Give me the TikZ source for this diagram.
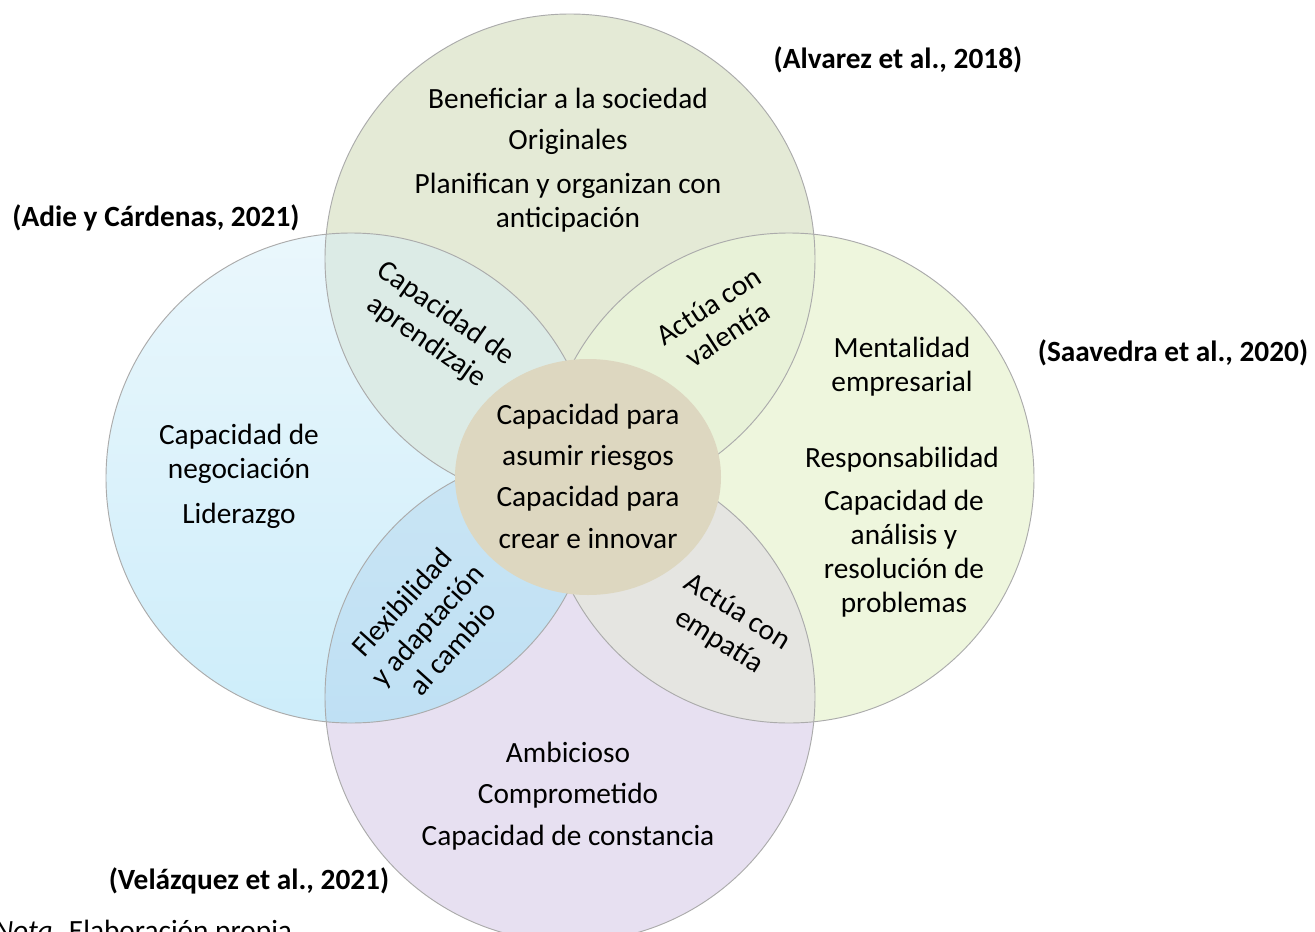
\documentclass[tikz,border=0pt]{standalone}
\usepackage{fontspec}
\setmainfont{Carlito}

\definecolor{topgreen}{HTML}{E4EAD6}
\definecolor{rightgreen}{HTML}{EEF6DD}
\definecolor{botlilac}{HTML}{E7E0F1}
\definecolor{leftblueA}{HTML}{EAF7FC}
\definecolor{leftblueB}{HTML}{CDEDFA}
\definecolor{lensTL}{HTML}{DCEBE6}
\definecolor{lensTR}{HTML}{E8F2D8}
\definecolor{lensBLa}{HTML}{D2E9F3}
\definecolor{lensBLb}{HTML}{BFE0F4}
\definecolor{lensBR}{HTML}{E5E5E1}
\definecolor{coretan}{HTML}{DDD7C0}
\definecolor{ringgray}{HTML}{ABABAB}

\tikzset{
    ring/.style={draw=ringgray, line width=0.7pt},
    body/.style={font=\fontsize{22}{25.5}\selectfont, align=center, inner sep=0pt},
    cite/.style={font=\fontsize{22}{25.5}\selectfont\bfseries, inner sep=0pt},
}

\begin{document}
\begin{tikzpicture}[x=0.75pt, y=-0.75pt]
    \clip (0,0) rectangle (1315,932);
    \fill[white] (0,0) rectangle (1315,932);
    \coordinate (ctop) at (570,259);
    \coordinate (cleft) at (351,478);
    \coordinate (cright) at (789,478);
    \coordinate (cbot) at (570,697);

    % the four circles
    \fill[topgreen] (ctop) circle (245);
    \fill[rightgreen] (cright) circle (245);
    \fill[botlilac] (cbot) circle (245);
    \shade[top color=leftblueA, bottom color=leftblueB] (cleft) circle (245);

    % overlaps
    \begin{scope}
        \clip (ctop) circle (245);
        \fill[lensTL] (cleft) circle (245);
        \fill[lensTR] (cright) circle (245);
    \end{scope}
    \begin{scope}
        \clip (cbot) circle (245);
        \shade[top color=lensBLa, bottom color=lensBLb] (cleft) circle (245);
        \fill[lensBR] (cright) circle (245);
    \end{scope}

    \draw[ring] (ctop) circle (245);
    \draw[ring] (cleft) circle (245);
    \draw[ring] (cright) circle (245);
    \draw[ring] (cbot) circle (245);

    \fill[coretan] (588,477) ellipse (133 and 118);

    % texts
    \node[body] (benef) at (568,98) {Beneficiar a la sociedad};
    \node[body] (orig) at (568,142) {Originales};
    \node[body] (plan) at (568,203) {Planifican y organizan con\\anticipación};

    \node[body] (negoc) at (239,454) {Capacidad de\\negociación};
    \node[body] (lider) at (239,516) {Liderazgo};

    \node[body] (mental) at (902,367) {Mentalidad\\empresarial};
    \node[body] (resp) at (902,460) {Responsabilidad};
    \node[body] (analis) at (904,554) {Capacidad de\\análisis y\\resolución de\\problemas};

    \node[body] (ambic) at (568,752) {Ambicioso};
    \node[body] (compr) at (568,796) {Comprometido};
    \node[body] (const) at (568,838) {Capacidad de constancia};

    \node[body, font=\fontsize{22}{31}\selectfont] (core) at (588,476) {Capacidad para\\asumir riesgos\\Capacidad para\\crear e innovar};

    \node[body, rotate=-35] (aprend) at (436,328) {Capacidad de\\aprendizaje};
    \node[body, rotate=33] (valent) at (718,320) {Actúa con\\valentía};
    \node[body, rotate=48] (flexi) at (427,625) {Flexibilidad\\y adaptación\\al cambio};
    \node[body, rotate=-32] (empat) at (728,627) {Actúa con\\empatía};

    % sources
    \node[cite] (alvarez) at (898,60) {(Alvarez et al., 2018)};
    \node[cite] (adie) at (156,218) {(Adie y Cárdenas, 2021)};
    \node[cite] (saave) at (1173,353) {(Saavedra et al., 2020)};
    \node[cite] (velaz) at (249,881) {(Velázquez et al., 2021)};

    \node[body, anchor=base west] (nota) at (-6,940) {\textit{Nota.} Elaboración propia};
\end{tikzpicture}
\end{document}
